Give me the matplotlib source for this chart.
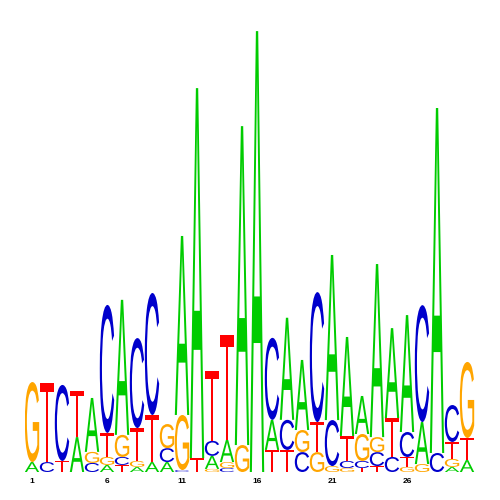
import numpy as np
import matplotlib
matplotlib.use('Agg')
import matplotlib.pyplot as plt
from matplotlib.textpath import TextPath
from matplotlib.patches import PathPatch
from matplotlib.font_manager import FontProperties
from matplotlib.transforms import Affine2D

# information content (bits) of each base at positions 1..30
positions = np.arange(1, 31)
A = [0.045, 0, 0, 0.158, 0.244, 0.032, 0.611, 0.023, 0.045, 0.045,
     0.810, 1.674, 0.059, 0.100, 1.443, 1.995, 0.136, 0.462, 0.317, 0,
     0.747, 0.448, 0.172, 0.783, 0.407, 0.529, 0.190, 1.561, 0.023, 0.054]
C = [0, 0.045, 0.344, 0, 0.041, 0.579, 0.036, 0.407, 0.552, 0.063,
     0.009, 0, 0.068, 0.018, 0, 0, 0.371, 0.136, 0.090, 0.588,
     0.208, 0.032, 0.032, 0.063, 0.068, 0.113, 0.529, 0.086, 0.167, 0]
G = [0.362, 0, 0, 0, 0.050, 0.036, 0.100, 0.027, 0, 0.109,
     0.249, 0, 0.014, 0.027, 0.122, 0, 0, 0, 0.100, 0.090,
     0.027, 0.018, 0.122, 0.068, 0, 0.023, 0.036, 0, 0.036, 0.344]
T = [0, 0.357, 0.050, 0.208, 0, 0.109, 0.032, 0.149, 0.213, 0,
     0, 0.063, 0.317, 0.475, 0, 0, 0.100, 0.100, 0, 0.136,
     0, 0.113, 0.018, 0.027, 0.176, 0.045, 0, 0, 0.077, 0.100]
tick_pos = [1, 6, 11, 16, 21, 26]

colors = {'A': '#00cc00', 'C': '#0000cc', 'G': '#ffa500', 'T': '#ff0000'}
fp = FontProperties(family='Liberation Sans', weight='normal')

def draw_letter(ax, letter, x, y, w, h):
    tp = TextPath((0, 0), letter, size=1, prop=fp)
    bb = tp.get_extents()
    tr = Affine2D().translate(-bb.x0, -bb.y0).scale(w / bb.width, h / bb.height).translate(x, y)
    path = tr.transform_path(tp)
    ax.add_patch(PathPatch(path, fc=colors[letter], ec='none', lw=0))

fig = plt.figure(figsize=(5, 5), dpi=100)
ax = fig.add_axes([24.5/500, 28/500, 450/500, 442/500])

for i, pos in enumerate(positions):
    col = [('A', A[i]), ('C', C[i]), ('G', G[i]), ('T', T[i])]
    col = sorted([c for c in col if c[1] > 0], key=lambda c: c[1])
    y = 0.0
    for letter, h in col:
        draw_letter(ax, letter, pos - 0.48, y, 0.96, h)
        y += h

ax.set_xlim(0.5, 30.5)
ax.set_ylim(0, 2.0)
ax.set_xticks(tick_pos)
ax.set_xticklabels([str(t) for t in tick_pos], fontsize=6, fontweight='bold',
                   family='Liberation Sans')
ax.set_yticks([])
ax.tick_params(axis='x', length=0, pad=4)
for s in ax.spines.values():
    s.set_visible(False)

fig.savefig('out.png', dpi=100)
plt.close()
